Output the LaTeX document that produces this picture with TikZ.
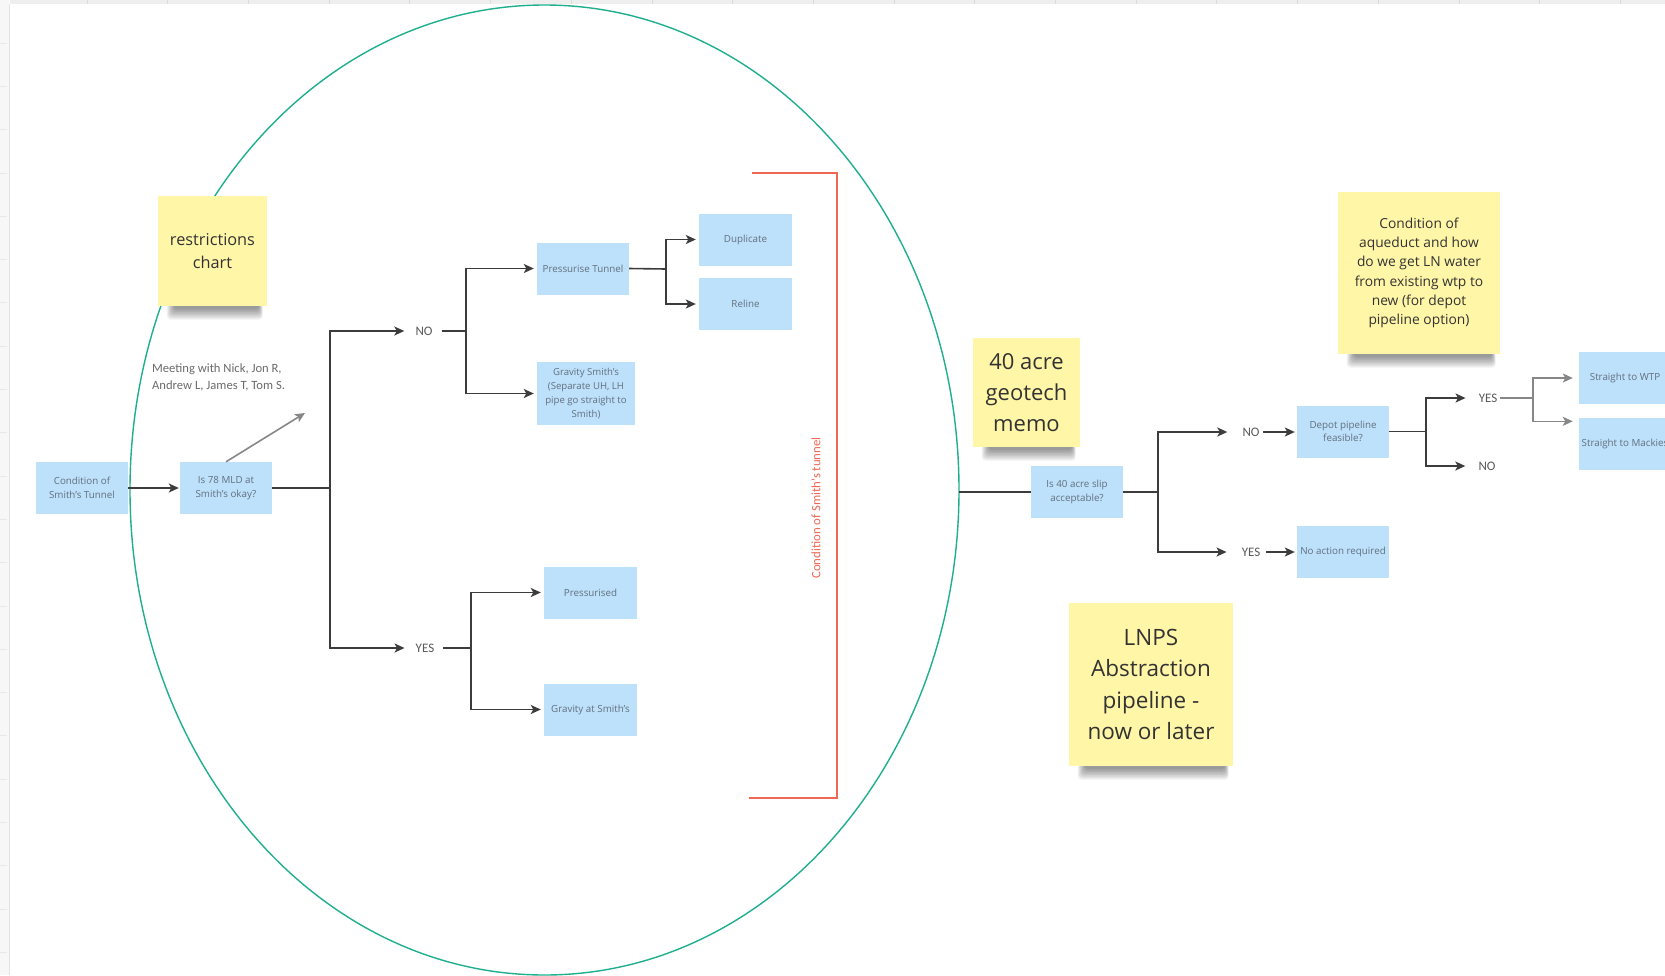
\documentclass[tikz,border=0pt]{standalone}
\usepackage{fontspec}
\setmainfont{Open Sans}
\newfontfamily\notefont{Carlito}
\usetikzlibrary{arrows.meta,shapes.geometric,calc}

\definecolor{stickyyellow}{RGB}{255,246,168}
\definecolor{boxblue}{RGB}{189,224,251}
\definecolor{boxtext}{RGB}{98,112,126}
\definecolor{linegray}{RGB}{60,60,60}
\definecolor{softgray}{RGB}{135,135,135}
\definecolor{ovalteal}{RGB}{31,175,142}
\definecolor{bracketred}{RGB}{240,104,84}

\pgfdeclarelayer{backdrop}
\pgfdeclarelayer{shadowlayer}
\pgfsetlayers{backdrop,shadowlayer,main}

\tikzset{
  box/.style={fill=boxblue, text=boxtext, font=\fontsize{9.8}{13.6}\selectfont,
    align=center, minimum width=92pt, minimum height=52pt, inner sep=1pt},
  sticky/.style={fill=stickyyellow, text=black!80, align=center, inner sep=2pt},
  lbl/.style={text=black!65, font=\notefont\fontsize{13}{14}\selectfont, inner sep=0pt},
  conn/.style={draw=linegray, line width=1.6pt},
  arr/.style={conn, -{Stealth[length=10pt,width=9pt,inset=2.5pt]}},
  softconn/.style={draw=softgray, line width=1.6pt},
  softarr/.style={softconn, -{Stealth[length=10pt,width=9pt,inset=2.5pt]}},
}

% soft shadow under the lower edge of a sticky note
\newcommand\stickyshade[1]{%
  \begin{pgfonlayer}{shadowlayer}
  \foreach \k in {0,...,7}{
    \fill[black, opacity=0.06, rounded corners=4pt]
      ([xshift={(16-\k)*1pt}, yshift=3pt]#1.south west) rectangle
      ([xshift={(-8+0.5*\k)*1pt}, yshift={(-3-1.5*\k)*1pt}]#1.south east);
  }
  \end{pgfonlayer}}

\begin{document}
\begin{tikzpicture}[x=1pt, y=-1pt]
\useasboundingbox (0,0) rectangle (1665,975);

% canvas with rulers
\begin{pgfonlayer}{backdrop}
  \fill[white] (0,0) rectangle (1665,975);
  \fill[gray!6] (0,0) rectangle (9,975);
  \draw[gray!22, line width=1.5pt] (9.5,4) -- (9.5,975);
  \fill[gray!13] (9.5,0) rectangle (1665,4);
  \foreach \t in {0,...,19} \draw[gray!28, line width=0.8pt] ({87+80.7*\t},0) -- ++(0,4);
  \foreach \t in {0,...,21} \draw[gray!18, line width=0.8pt] (0,{43+43.3*\t}) -- ++(7,0);
\end{pgfonlayer}

% oval round the Smith's tunnel options
\node[draw=ovalteal, line width=1.4pt, ellipse, minimum width=829pt,
      minimum height=970pt, inner sep=0pt, outer sep=0pt] (circ) at (544.5,490) {};

% bracket with its label
\draw[bracketred, line width=1.4pt] (752,173) -- (837,173) -- (837,798) -- (749,798);
\node[rotate=90, text=bracketred, font=\notefont\fontsize{12.8}{14}\selectfont, inner sep=0pt]
  (bracketlabel) at (816,508) {Condition of Smith's tunnel};

% process boxes
\node[box] (cond) at (82,488) {Condition of\\Smith's Tunnel};
\node[box] (is78) at (226,488) {Is 78 MLD at\\Smith's okay?};
\node[box] (press) at (583,268.5) {Pressurise Tunnel};
\node[box, minimum width=93pt] (dup) at (745.5,239.5) {Duplicate};
\node[box, minimum width=93pt] (reline) at (745.5,304) {Reline};
\node[box, minimum width=98pt, minimum height=63pt, font=\fontsize{9.6}{13.8}\selectfont]
  (grav) at (586,393.5) {Gravity Smith's\\(Separate UH, LH\\pipe go straight to\\Smith)};
\node[box, minimum width=93pt] (pressd) at (590.5,592.5) {Pressurised};
\node[box, minimum width=93pt] (gravs) at (590.5,709.5) {Gravity at Smith's};
\node[box] (is40) at (1077,492) {Is 40 acre slip\\acceptable?};
\node[box] (depot) at (1343,431.5) {Depot pipeline\\feasible?};
\node[box] (noact) at (1343,552) {No action required};
\node[box] (wtp) at (1625,378) {Straight to WTP};
\node[box] (mackie) at (1625,443.5) {Straight to Mackies};

% answer labels
\node[lbl] (no1) at (424,331) {NO};
\node[lbl] (yes1) at (425,648) {YES};
\node[lbl] (no2) at (1251,432) {NO};
\node[lbl] (yes2) at (1251,552) {YES};
\node[lbl] (yes3) at (1488,398) {YES};
\node[lbl] (no3) at (1487,466) {NO};

% meeting note
\node[anchor=north west, align=left, text=black!58, inner sep=0pt,
      font=\notefont\fontsize{12.6}{16.5}\selectfont] (meeting) at (152,364)
  {Meeting with Nick, Jon R,\\Andrew L, James T, Tom S.};

% branch points
\coordinate (j1) at (330,488);
\coordinate (j2) at (466,331);
\coordinate (j3) at (666,269);
\coordinate (j4) at (471,648);
\coordinate (j5) at (1158,492);
\coordinate (j6) at (1426,431.5);
\coordinate (j7) at (1533,398);
\coordinate (mtgtip) at (305,413);

% left tree
\draw[arr, shorten >=1pt] (cond) -- (is78);
\draw[softarr] (is78.north) -- (mtgtip);
\draw[conn] (is78.east) -- (j1);
\draw[arr, shorten >=11pt] (j1) |- (no1.west);
\draw[arr, shorten >=11pt] (j1) |- (yes1.west);
\draw[conn, shorten <=9pt] (no1.east) -- (j2);
\draw[arr, shorten >=3pt] (j2) |- (press.west);
\draw[arr, shorten >=3pt] (j2) |- (grav.west);
\draw[conn] (press.east) -- (j3);
\draw[arr, shorten >=3pt] (j3) |- (dup.west);
\draw[arr, shorten >=3pt] (j3) |- (reline.west);
\draw[conn, shorten <=9pt] (yes1.east) -- (j4);
\draw[arr, shorten >=3pt] (j4) |- (pressd.west);
\draw[arr, shorten >=3pt] (j4) |- (gravs.west);

% right tree
\draw[conn] (circ.east |- is40.west) -- (is40.west);
\draw[conn] (is40.east) -- (j5);
\draw[arr, shorten >=15pt] (j5) |- (no2.west);
\draw[arr, shorten >=15pt] (j5) |- (yes2.west);
\draw[arr, shorten <=3pt, shorten >=2pt] (no2.east) -- (no2.east -| depot.west);
\draw[arr, shorten <=6pt, shorten >=2pt] (yes2.east) -- (yes2.east -| noact.west);
\draw[conn] (depot.east) -- (j6);
\draw[arr, shorten >=13pt] (j6) |- (yes3.west);
\draw[arr, shorten >=13pt] (j6) |- (no3.west);
\draw[softconn, shorten <=3pt] (yes3.east) -- (j7);
\draw[softarr, shorten >=6pt] (j7) |- (wtp.west);
\draw[softarr, shorten >=6pt] (j7) |- ([yshift=-4pt]mackie.north west);

% sticky notes
\node[sticky, minimum width=109pt, minimum height=110pt, font=\fontsize{16.3}{23.4}\selectfont]
  (restr) at (212.5,251) {restrictions\\chart};
\node[sticky, minimum width=107pt, minimum height=109pt, font=\fontsize{22}{30.8}\selectfont]
  (acre) at (1026.5,392.5) {40 acre\\geotech\\memo};
\node[sticky, minimum width=162pt, minimum height=162pt, font=\fontsize{13.8}{19.3}\selectfont]
  (aqueduct) at (1419,273) {Condition of\\aqueduct and how\\do we get LN water\\from existing wtp to\\new (for depot\\pipeline option)};
\node[sticky, minimum width=164pt, minimum height=163pt, font=\fontsize{22.5}{31.1}\selectfont]
  (lnps) at (1151,684.5) {LNPS\\Abstraction\\pipeline -\\now or later};
\stickyshade{restr}
\stickyshade{acre}
\stickyshade{aqueduct}
\stickyshade{lnps}
\end{tikzpicture}
\end{document}
